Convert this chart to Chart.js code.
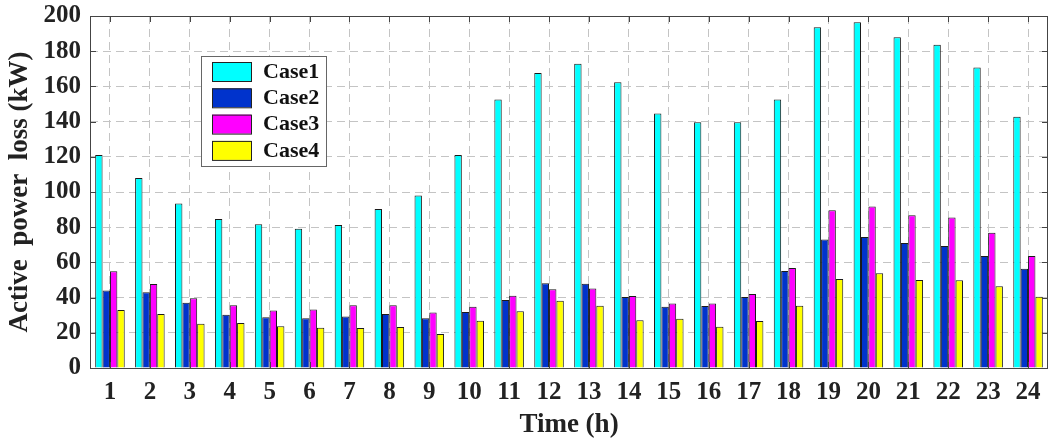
<!DOCTYPE html>
<html>
<head>
<meta charset="utf-8">
<script src="https://cdn.jsdelivr.net/npm/chart.js@4.4.1/dist/chart.umd.min.js"></script>
<style>
  html, body { margin: 0; padding: 0; background: #fff; }
  #wrap { width: 1052px; height: 441px; position: relative; }
</style>
</head>
<body>
<div id="wrap"><canvas id="lossChart"></canvas></div>
<script>
// hours on the x axis
const hours = ['1','2','3','4','5','6','7','8','9','10','11','12','13','14','15','16','17','18','19','20','21','22','23','24'];

// active power loss (kW) for each case
const case1 = [121, 108, 93.5, 84.6, 81.7, 79.1, 81.2, 90.4, 98, 121, 152.5, 167.6, 172.9, 162.3, 144.6, 139.6, 139.6, 152.5, 193.6, 196.4, 187.9, 183.7, 170.7, 142.7];
const case2 = [44, 43.1, 37.1, 30.3, 28.9, 28.2, 29.3, 30.7, 28.2, 31.8, 38.6, 48.2, 47.9, 40.3, 34.8, 35.2, 40.3, 55.1, 73, 74.4, 71, 69.3, 63.6, 56.4];
const case3 = [55, 47.7, 39.7, 35.6, 32.7, 33.3, 35.6, 35.6, 31.6, 34.8, 41.1, 44.8, 45.2, 40.9, 36.7, 36.7, 42, 56.8, 89.7, 91.8, 86.8, 85.5, 76.8, 63.6];
const case4 = [33, 30.7, 25.2, 25.5, 23.7, 22.9, 22.7, 23.3, 19.3, 26.9, 32.2, 38.2, 35.4, 27.1, 28, 23.5, 26.7, 35.4, 50.5, 53.9, 50, 49.8, 46.5, 40.5];

const caseNames = ['Case1', 'Case2', 'Case3', 'Case4'];
const caseColors = ['#00ffff', '#0033cc', '#ff00ff', '#ffff00'];

const serif = '"Liberation Serif", "Times New Roman", serif';

// matlab style box, inward ticks and legend inside the axes
const boxPlugin = {
    id: 'boxPlugin',
    afterDraw(chart) {
        const ctx = chart.ctx;
        const a = chart.chartArea;
        const xs = chart.scales.x;
        const ys = chart.scales.y;
        ctx.save();
        ctx.strokeStyle = '#444';
        ctx.lineWidth = 1;
        ctx.setLineDash([]);
        ctx.strokeRect(a.left + 0.5, a.top + 0.5, a.right - a.left - 1, a.bottom - a.top);

        const tl = 6;
        ctx.beginPath();
        hours.forEach((h, i) => {
            const x = Math.round(xs.getPixelForValue(i)) + 0.5;
            ctx.moveTo(x, a.top); ctx.lineTo(x, a.top + tl);
            ctx.moveTo(x, a.bottom); ctx.lineTo(x, a.bottom - tl);
        });
        ys.ticks.forEach(t => {
            const y = Math.round(ys.getPixelForValue(t.value)) + 0.5;
            ctx.moveTo(a.left, y); ctx.lineTo(a.left + tl, y);
            ctx.moveTo(a.right, y); ctx.lineTo(a.right - tl, y);
        });
        ctx.stroke();

        // legend
        const lx = a.left + 111, ly = a.top + 40, lw = 125, lh = 110;
        ctx.fillStyle = '#fff';
        ctx.fillRect(lx, ly, lw, lh);
        ctx.strokeStyle = '#666';
        ctx.strokeRect(lx + 0.5, ly + 0.5, lw, lh);
        ctx.font = 'bold 22px ' + serif;
        ctx.textBaseline = 'middle';
        chart.data.datasets.forEach((ds, i) => {
            const sy = ly + 6 + i * 26.3;
            ctx.fillStyle = ds.backgroundColor;
            ctx.fillRect(lx + 11, sy, 39, 19);
            ctx.strokeStyle = '#222';
            ctx.strokeRect(lx + 11.5, sy + 0.5, 39, 19);
            ctx.fillStyle = '#111';
            ctx.fillText(ds.label, lx + 62, sy + 10);
        });
        ctx.restore();
    }
};

const seriesData = [case1, case2, case3, case4];

new Chart(document.getElementById('lossChart'), {
    type: 'bar',
    data: {
        labels: hours,
        datasets: seriesData.map((d, i) => ({
            label: caseNames[i],
            data: d,
            backgroundColor: caseColors[i],
            borderColor: '#1a1a1a',
            borderWidth: 1,
            categoryPercentage: 0.74,
            barPercentage: 1.0
        }))
    },
    options: {
        responsive: true,
        maintainAspectRatio: false,
        animation: false,
        layout: { padding: { top: 16, right: 4, left: 0, bottom: 0 } },
        plugins: {
            legend: { display: false },
            tooltip: { enabled: false }
        },
        scales: {
            x: {
                grid: { offset: false, color: '#c4c4c4', drawTicks: false },
                border: { display: false, dash: [8, 5] },
                ticks: { color: '#222', font: { family: serif, size: 25, weight: 'bold' }, padding: 10, maxRotation: 0, autoSkip: false },
                title: { display: true, text: 'Time (h)', color: '#222', font: { family: serif, size: 27, weight: 'bold' }, padding: { top: 0, bottom: 0 } },
                afterFit(s) { s.height = 73; s.paddingLeft = 0; s.paddingRight = 0; }
            },
            y: {
                min: 0,
                max: 200,
                grid: { color: '#c4c4c4', drawTicks: false },
                border: { display: false, dash: [8, 5] },
                ticks: { stepSize: 20, color: '#222', font: { family: serif, size: 25, weight: 'bold' }, padding: 9 },
                title: { display: true, text: 'Active  power  loss (kW)', color: '#222', font: { family: serif, size: 27, weight: 'bold' }, padding: { top: 4, bottom: 0 } },
                afterFit(s) { s.width = 90; s.paddingTop = 0; s.paddingBottom = 0; }
            }
        }
    },
    plugins: [boxPlugin]
});
</script>
</body>
</html>
